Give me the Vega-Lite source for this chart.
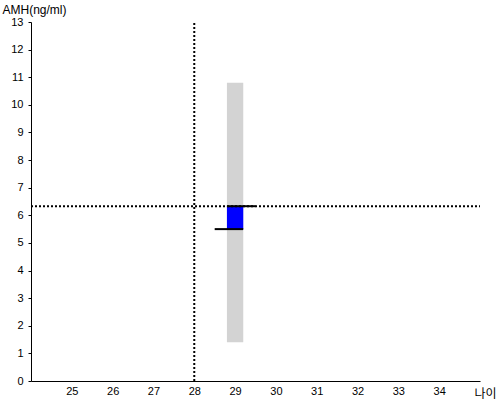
{
  "$schema": "https://vega.github.io/schema/vega-lite/v6.json",
  "width": 449,
  "height": 359,
  "autosize": "none",
  "padding": {"left": 31, "top": 22, "right": 20, "bottom": 19},
  "config": {
    "view": {"stroke": null},
    "font": "Liberation Sans",
    "axis": {"grid": false, "domainColor": "#000", "tickColor": "#000", "labelColor": "#000", "titleColor": "#000", "labelFont": "Liberation Sans", "labelFontSize": 11}
  },
  "data": {"values": [
    {"kind": "range", "x": 28.8, "x2": 29.2, "y": 1.4, "y2": 10.8},
    {"kind": "box", "x": 28.8, "x2": 29.2, "y": 5.5, "y2": 6.33},
    {"kind": "bar", "x": 28.8, "x2": 29.5, "y": 6.33, "y2": 6.33},
    {"kind": "bar", "x": 28.5, "x2": 29.2, "y": 5.5, "y2": 5.5},
    {"kind": "ref", "x": 28, "x2": 28, "y": 0, "y2": 13},
    {"kind": "ref", "x": 24, "x2": 35, "y": 6.33, "y2": 6.33}
  ]},
  "encoding": {
    "x": {"field": "x", "type": "quantitative", "scale": {"domain": [24, 35], "nice": false, "zero": false},
      "axis": {"values": [25,26,27,28,29,30,31,32,33,34], "ticks": false, "labelPadding": 4, "labelOverlap": false, "labelFlush": false,
        "title": "나이", "titleFont": "Noto Sans CJK KR", "titleFontSize": 12, "titleFontWeight": "normal",
        "titleAlign": "left", "titleBaseline": "alphabetic", "titleX": 443, "titleY": 16}},
    "x2": {"field": "x2"},
    "y": {"field": "y", "type": "quantitative", "scale": {"domain": [0, 13], "nice": false},
      "axis": {"values": [0,1,2,3,4,5,6,7,8,9,10,11,12,13], "tickSize": 3, "labelPadding": 5, "labelOverlap": false, "labelFlush": false,
        "title": "AMH(ng/ml)", "titleAngle": 0, "titleFontSize": 12, "titleFontWeight": "normal",
        "titleAlign": "left", "titleBaseline": "alphabetic", "titleX": -29, "titleY": -9}},
    "y2": {"field": "y2"}
  },
  "layer": [
    {
      "transform": [{"filter": "datum.kind === 'range'"}],
      "mark": {"type": "rect", "color": "#d3d3d3"}
    },
    {
      "transform": [{"filter": "datum.kind === 'box'"}],
      "mark": {"type": "rect", "color": "#0000ff"}
    },
    {
      "transform": [{"filter": "datum.kind === 'bar'"}],
      "mark": {"type": "rule", "color": "#000", "strokeWidth": 2}
    },
    {
      "transform": [{"filter": "datum.kind === 'ref'"}],
      "mark": {"type": "rule", "color": "#000", "strokeWidth": 2, "strokeDash": [2, 2]}
    }
  ]
}
